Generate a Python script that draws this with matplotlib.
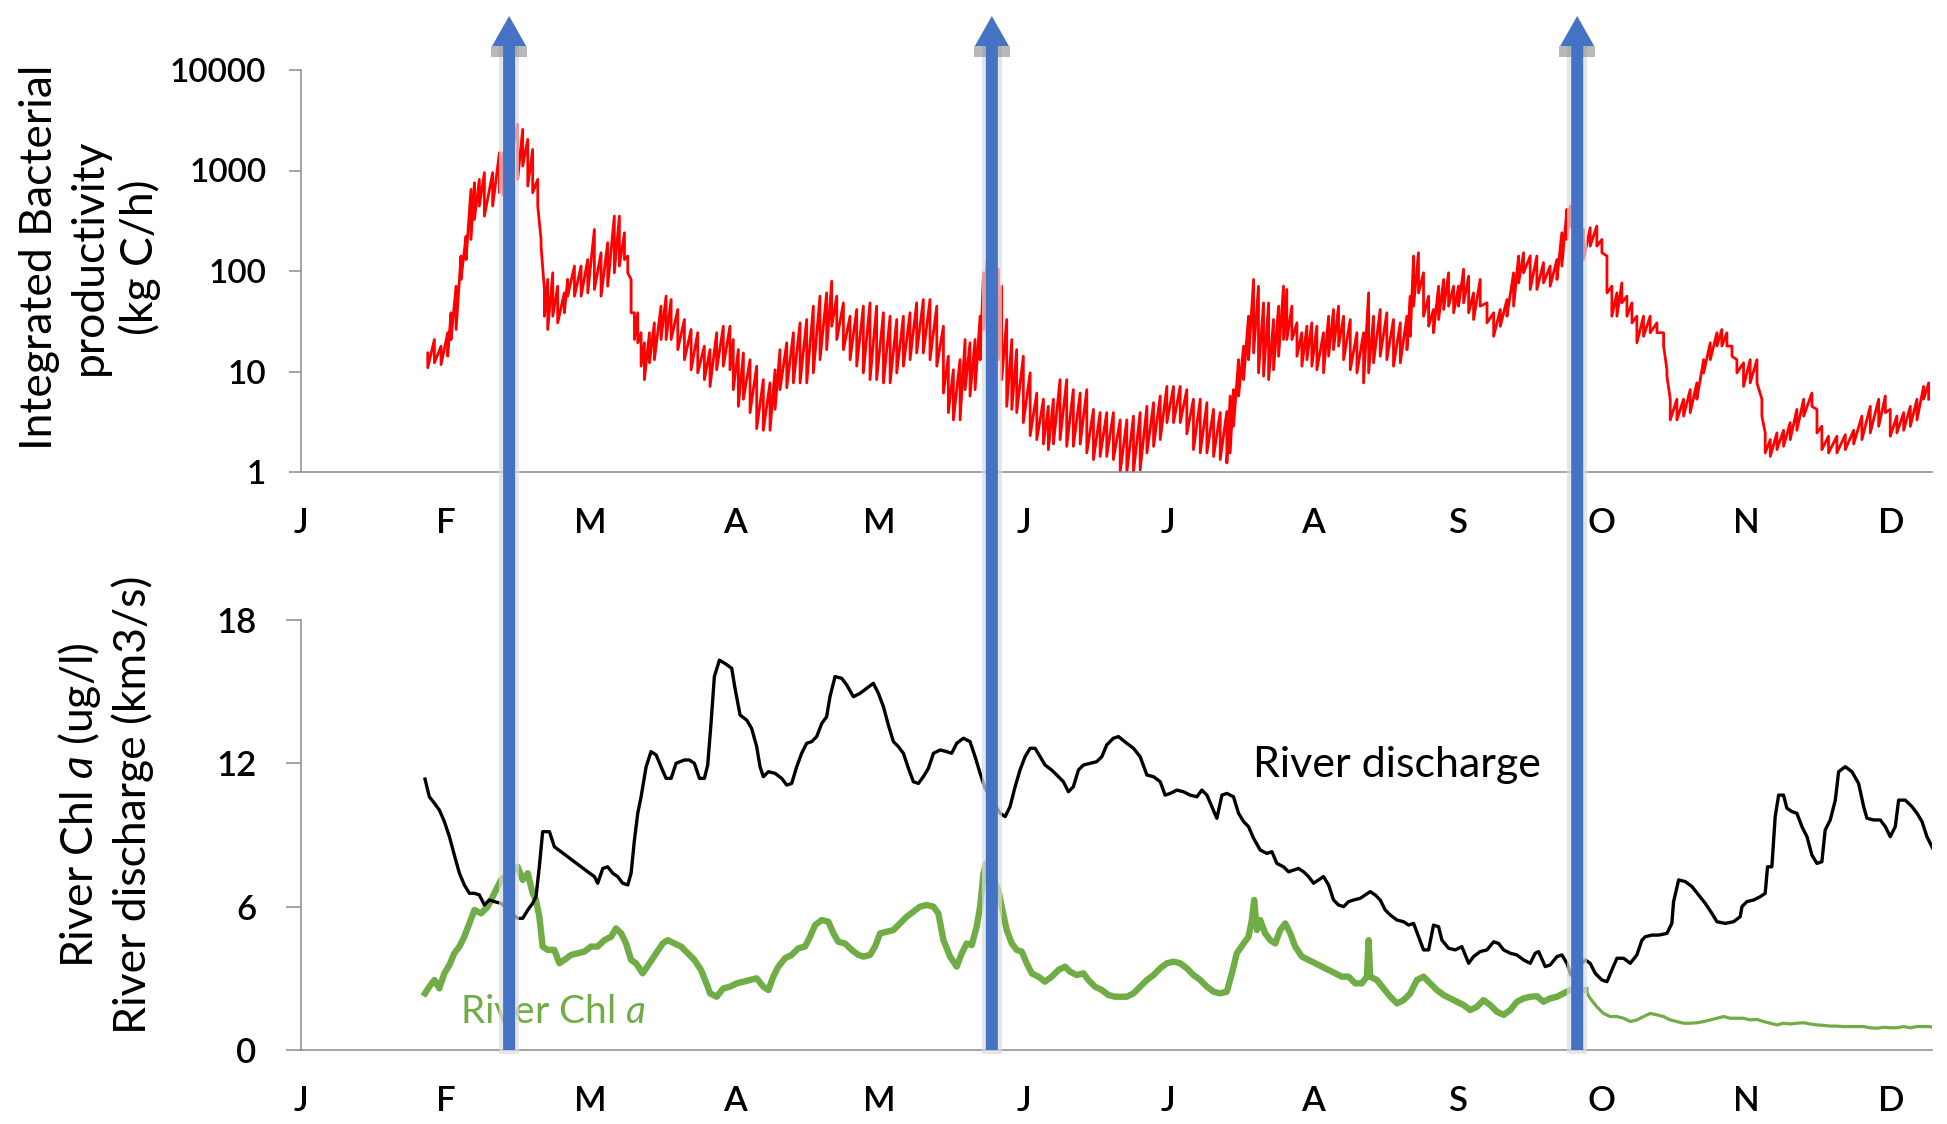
import numpy as np
import matplotlib
matplotlib.use("Agg")
from matplotlib import pyplot as plt
from matplotlib.patches import Polygon, Rectangle
from matplotlib.ticker import NullLocator
from matplotlib.transforms import IdentityTransform

# time axis in months: 0 = 1 January, one unit per month
months = ["J", "F", "M", "A", "M", "J", "J", "A", "S", "O", "N", "D"]

# integrated bacterial productivity (kg C/h): daily maxima / minima
bp_t = [0.877, 0.923, 0.969, 1.015, 1.038, 1.073, 1.107, 1.142, 1.176, 1.200,
        1.234, 1.269, 1.326, 1.373, 1.396, 1.499, 1.534, 1.569, 1.603, 1.638,
        1.661, 1.684, 1.707, 1.742, 1.776, 1.822, 1.845, 1.892, 1.938, 1.984,
        2.030, 2.076, 2.122, 2.168, 2.203, 2.238, 2.261, 2.284, 2.307, 2.330,
        2.353, 2.376, 2.411, 2.445, 2.491, 2.526, 2.561, 2.607, 2.653, 2.699,
        2.745, 2.791, 2.830, 2.876, 2.922, 2.968, 2.991, 3.026, 3.061, 3.107,
        3.153, 3.199, 3.245, 3.280, 3.314, 3.361, 3.407, 3.453, 3.499, 3.545,
        3.591, 3.637, 3.672, 3.707, 3.753, 3.799, 3.845, 3.891, 3.937, 3.983,
        4.030, 4.076, 4.122, 4.168, 4.214, 4.260, 4.306, 4.352, 4.399, 4.445,
        4.479, 4.514, 4.560, 4.595, 4.629, 4.664, 4.699, 4.722, 4.745, 4.825,
        4.848, 4.883, 4.918, 4.952, 4.998, 5.045, 5.091, 5.137, 5.171, 5.206,
        5.252, 5.298, 5.344, 5.391, 5.437, 5.483, 5.529, 5.575, 5.621, 5.668,
        5.714, 5.760, 5.806, 5.853, 5.899, 5.945, 5.991, 6.037, 6.083, 6.129,
        6.175, 6.222, 6.268, 6.314, 6.360, 6.406, 6.429, 6.452, 6.487, 6.522,
        6.556, 6.591, 6.625, 6.660, 6.695, 6.729, 6.764, 6.798, 6.821, 6.856,
        6.891, 6.925, 6.960, 6.994, 7.029, 7.075, 7.110, 7.144, 7.179, 7.214,
        7.260, 7.306, 7.352, 7.387, 7.421, 7.467, 7.513, 7.559, 7.606, 7.652,
        7.675, 7.698, 7.732, 7.767, 7.802, 7.836, 7.871, 7.906, 7.940, 7.975,
        8.009, 8.044, 8.079, 8.113, 8.159, 8.206, 8.252, 8.298, 8.344, 8.390,
        8.425, 8.459, 8.505, 8.551, 8.597, 8.643, 8.690, 8.724, 8.759, 8.782,
        8.874, 8.920, 8.966, 9.001, 9.036, 9.070, 9.105, 9.139, 9.174, 9.209,
        9.243, 9.289, 9.335, 9.382, 9.428, 9.451, 9.474, 9.520, 9.566, 9.612,
        9.658, 9.705, 9.751, 9.797, 9.831, 9.866, 9.901, 9.935, 9.981, 10.027,
        10.074, 10.108, 10.131, 10.166, 10.212, 10.258, 10.304, 10.350, 10.397, 10.454,
        10.489, 10.523, 10.569, 10.627, 10.685, 10.743, 10.800, 10.858, 10.916, 10.962,
        10.996, 11.042, 11.089, 11.135, 11.181, 11.227, 11.262]
bp_high = [15.3, 20.8, 17.9, 24.3, 38.4, 70.6, 141, 222, 649, 755,
           816, 951, 951, 1504, 1504, 2884, 2570, 2042, 1622, 816,
           206, 65.5, 82.4, 96.0, 70.6, 60.6, 82.4, 112, 112, 130,
           259, 152, 191, 352, 352, 240, 141, 82.4, 38.4, 38.4,
           24.3, 19.3, 24.3, 30.5, 44.7, 56.2, 52.0, 41.4, 32.9, 26.2,
           24.3, 17.9, 16.5, 24.3, 28.2, 28.2, 20.8, 16.5, 15.3, 13.1,
           11.3, 8.3, 7.7, 10.4, 16.5, 19.3, 24.3, 30.5, 32.9, 44.7,
           56.2, 60.6, 79.3, 56.2, 48.2, 35.5, 41.4, 44.7, 48.2, 44.7,
           38.4, 35.5, 32.9, 35.5, 38.4, 48.2, 52.0, 52.0, 44.7, 28.2,
           14.2, 10.4, 13.1, 20.8, 19.3, 20.8, 35.5, 96.0, 121, 104,
           70.6, 32.9, 20.8, 16.5, 14.2, 9.7, 6.1, 5.3, 4.5, 5.3,
           8.3, 8.3, 6.6, 6.1, 6.6, 4.2, 3.9, 3.9, 3.9, 3.3,
           3.3, 3.6, 3.9, 4.5, 4.9, 5.7, 7.1, 7.1, 7.1, 6.6,
           5.3, 5.3, 4.9, 4.2, 3.9, 4.0, 5.7, 6.6, 13.1, 17.9,
           35.5, 82.4, 70.6, 48.2, 48.2, 32.9, 44.7, 70.6, 65.5, 44.7,
           30.5, 24.3, 28.2, 30.5, 28.2, 24.3, 35.5, 41.4, 44.7, 35.5,
           32.9, 24.3, 24.3, 60.6, 35.5, 41.4, 38.4, 32.9, 30.5, 35.5,
           56.2, 141, 152, 96.0, 56.2, 41.4, 70.6, 82.4, 96.0, 70.6,
           70.6, 104, 88.9, 60.6, 82.4, 48.2, 38.4, 41.4, 52.0, 96.0,
           141, 152, 141, 141, 121, 112, 130, 240, 411, 443,
           259, 269, 280, 206, 141, 70.6, 60.6, 76.2, 56.2, 48.2,
           35.5, 35.5, 35.5, 30.5, 24.3, 10.4, 5.3, 5.3, 5.3, 6.6,
           7.7, 13.1, 19.3, 24.3, 26.2, 24.3, 17.9, 13.1, 12.2, 13.1,
           13.1, 5.3, 2.45, 2.1, 2.45, 2.6, 3.1, 4.2, 5.3, 6.1,
           4.2, 2.85, 2.27, 2.27, 2.35, 2.6, 3.6, 4.5, 5.3, 5.7,
           4.2, 3.6, 3.9, 4.5, 5.3, 7.1, 7.7]
bp_low = [10.9, 12.2, 11.7, 14.2, 20.8, 26.2, 82.4, 130, 206, 326,
          443, 352, 443, 601, 578, 816, 1109, 700, 601, 443,
          177, 35.5, 26.2, 35.5, 30.5, 38.4, 56.2, 56.2, 56.2, 60.6,
          65.5, 56.2, 70.6, 96.0, 112, 130, 96.0, 38.4, 20.8, 19.3,
          11.3, 8.3, 12.2, 13.1, 20.8, 20.8, 20.8, 16.5, 13.1, 10.4,
          9.7, 8.3, 7.1, 10.4, 11.3, 10.4, 6.6, 4.5, 5.3, 3.9,
          2.7, 2.6, 2.6, 4.2, 6.6, 6.9, 7.7, 7.7, 7.7, 9.7,
          13.1, 16.5, 28.2, 20.8, 16.5, 13.1, 11.3, 9.7, 8.3, 8.3,
          7.7, 7.7, 9.7, 11.3, 13.1, 15.3, 15.3, 13.1, 11.3, 6.1,
          3.9, 3.3, 3.3, 6.6, 5.7, 6.6, 13.1, 26.2, 24.3, 13.1,
          8.3, 4.5, 4.2, 3.9, 3.1, 2.3, 2.1, 1.9, 1.67, 1.9,
          2.1, 1.8, 1.8, 1.9, 1.55, 1.33, 1.43, 1.43, 1.33, 1.0,
          1.0, 1.0, 1.05, 1.55, 1.8, 2.1, 3.1, 3.1, 3.1, 2.4,
          1.67, 1.55, 1.55, 1.43, 1.33, 1.23, 1.55, 2.85, 5.7, 8.3,
          13.1, 15.3, 9.7, 9.0, 8.3, 10.4, 14.2, 20.8, 20.8, 20.8,
          14.2, 11.3, 13.1, 11.3, 10.4, 9.7, 14.2, 16.5, 17.9, 13.1,
          10.4, 9.7, 7.7, 9.7, 12.2, 14.2, 13.1, 11.3, 12.2, 16.5,
          22.4, 44.7, 60.6, 35.5, 28.2, 24.3, 32.9, 41.4, 44.7, 38.4,
          44.7, 48.2, 38.4, 32.9, 44.7, 30.5, 22.4, 28.2, 35.5, 44.7,
          76.2, 96.0, 65.5, 65.5, 76.2, 70.6, 82.4, 112, 206, 280,
          130, 177, 177, 152, 60.6, 35.5, 35.5, 48.2, 35.5, 30.5,
          19.3, 22.4, 24.3, 24.3, 17.9, 9.0, 3.3, 3.3, 3.6, 3.9,
          5.3, 9.7, 13.1, 17.9, 17.9, 17.9, 14.2, 9.7, 7.1, 7.7,
          7.7, 3.6, 1.55, 1.43, 1.67, 1.8, 2.1, 2.6, 3.6, 4.5,
          2.45, 1.67, 1.55, 1.55, 1.67, 1.9, 2.1, 2.45, 2.85, 3.9,
          2.27, 2.45, 2.6, 2.85, 3.3, 5.3, 5.3]

# river discharge (km3/s)
q_t = [0.858, 0.888, 0.923, 0.957, 0.992, 1.027, 1.061, 1.096, 1.130, 1.165,
       1.200, 1.234, 1.269, 1.303, 1.338, 1.384, 1.499, 1.534, 1.569, 1.603,
       1.626, 1.649, 1.672, 1.719, 1.753, 1.799, 1.845, 1.892, 1.938, 1.984,
       2.030, 2.053, 2.088, 2.122, 2.157, 2.191, 2.226, 2.261, 2.284, 2.307,
       2.330, 2.353, 2.388, 2.422, 2.457, 2.491, 2.526, 2.561, 2.595, 2.653,
       2.687, 2.722, 2.757, 2.791, 2.814, 2.837, 2.860, 2.895, 2.934, 2.980,
       3.003, 3.038, 3.084, 3.118, 3.153, 3.176, 3.199, 3.234, 3.280, 3.326,
       3.361, 3.395, 3.430, 3.464, 3.499, 3.534, 3.568, 3.603, 3.637, 3.660,
       3.695, 3.741, 3.776, 3.822, 3.868, 3.914, 3.960, 3.995, 4.030, 4.064,
       4.099, 4.133, 4.168, 4.203, 4.237, 4.272, 4.306, 4.341, 4.376, 4.422,
       4.468, 4.502, 4.537, 4.583, 4.629, 4.664, 4.699, 4.733, 4.837, 4.872,
       4.906, 4.941, 4.975, 5.010, 5.045, 5.079, 5.114, 5.148, 5.194, 5.241,
       5.275, 5.310, 5.344, 5.379, 5.414, 5.460, 5.506, 5.541, 5.575, 5.621,
       5.656, 5.714, 5.760, 5.806, 5.853, 5.899, 5.945, 5.979, 6.014, 6.060,
       6.106, 6.152, 6.199, 6.233, 6.268, 6.302, 6.337, 6.372, 6.406, 6.452,
       6.487, 6.522, 6.556, 6.591, 6.637, 6.683, 6.718, 6.752, 6.798, 6.833,
       6.868, 6.902, 6.937, 6.971, 7.006, 7.041, 7.075, 7.110, 7.144, 7.179,
       7.214, 7.248, 7.283, 7.329, 7.364, 7.398, 7.433, 7.467, 7.502, 7.537,
       7.583, 7.629, 7.663, 7.698, 7.733, 7.767, 7.802, 7.836, 7.871, 7.894,
       7.940, 7.986, 8.032, 8.079, 8.113, 8.159, 8.206, 8.252, 8.286, 8.321,
       8.367, 8.413, 8.459, 8.505, 8.540, 8.563, 8.609, 8.643, 8.690, 8.724,
       8.759, 8.786, 8.886, 8.920, 8.955, 9.001, 9.036, 9.070, 9.105, 9.151,
       9.197, 9.243, 9.278, 9.301, 9.347, 9.393, 9.451, 9.485, 9.497, 9.532,
       9.578, 9.624, 9.670, 9.716, 9.762, 9.797, 9.855, 9.912, 9.958, 9.970,
       10.004, 10.051, 10.097, 10.131, 10.147, 10.177, 10.200, 10.224, 10.258, 10.281,
       10.316, 10.350, 10.385, 10.420, 10.454, 10.489, 10.523, 10.546, 10.581, 10.616,
       10.639, 10.685, 10.731, 10.777, 10.812, 10.835, 10.881, 10.927, 10.962, 10.996,
       11.031, 11.054, 11.100, 11.146, 11.181, 11.216, 11.250, 11.296]
q_val = [11.34, 10.60, 10.33, 10.05, 9.56, 8.93, 8.16, 7.40, 6.91, 6.56,
         6.56, 6.49, 6.07, 6.28, 6.21, 6.14, 5.51, 5.51, 5.86, 6.14,
         6.42, 7.67, 9.14, 9.14, 8.51, 8.30, 8.09, 7.88, 7.67, 7.46,
         7.26, 6.98, 7.60, 7.67, 7.40, 7.26, 6.98, 6.91, 7.40, 8.79,
         9.91, 10.60, 11.86, 12.49, 12.35, 11.86, 11.37, 11.37, 12.00, 12.14,
         12.14, 12.00, 11.37, 11.37, 11.93, 13.67, 15.63, 16.32, 16.18, 15.98,
         15.14, 14.02, 13.81, 13.46, 12.70, 11.86, 11.44, 11.65, 11.58, 11.37,
         11.09, 11.16, 11.86, 12.42, 12.84, 12.91, 13.12, 13.67, 13.95, 14.79,
         15.63, 15.56, 15.28, 14.79, 14.93, 15.14, 15.35, 14.93, 14.37, 13.60,
         12.91, 12.70, 12.42, 11.79, 11.23, 11.16, 11.44, 11.79, 12.42, 12.56,
         12.49, 12.42, 12.84, 13.05, 12.91, 12.28, 11.58, 10.95, 9.91, 9.77,
         10.19, 11.02, 11.72, 12.28, 12.63, 12.63, 12.28, 11.93, 11.72, 11.44,
         11.23, 10.81, 11.02, 11.72, 11.93, 12.00, 12.07, 12.28, 12.77, 13.05,
         13.12, 12.84, 12.63, 12.28, 11.51, 11.44, 11.23, 10.67, 10.74, 10.88,
         10.81, 10.67, 10.60, 10.88, 10.67, 10.19, 9.70, 10.67, 10.74, 10.60,
         9.91, 9.56, 9.35, 8.86, 8.37, 8.23, 8.30, 7.81, 7.67, 7.46,
         7.53, 7.60, 7.46, 7.26, 6.98, 7.12, 7.26, 6.91, 6.28, 6.07,
         6.00, 6.21, 6.28, 6.35, 6.49, 6.63, 6.49, 6.28, 5.86, 5.65,
         5.44, 5.37, 5.23, 5.30, 4.74, 4.19, 4.19, 5.23, 5.16, 4.60,
         4.26, 4.19, 4.33, 3.63, 3.91, 4.12, 4.19, 4.53, 4.46, 4.19,
         4.05, 3.98, 3.77, 3.63, 4.05, 4.12, 3.49, 3.56, 3.91, 3.98,
         3.63, 3.14, 3.77, 3.63, 3.21, 2.93, 2.86, 3.35, 3.84, 3.84,
         3.63, 3.98, 4.60, 4.74, 4.81, 4.81, 4.88, 5.30, 6.21, 7.12,
         7.05, 6.84, 6.49, 6.14, 5.72, 5.37, 5.30, 5.37, 5.58, 6.00,
         6.21, 6.28, 6.42, 6.56, 7.67, 7.67, 9.77, 10.67, 10.67, 10.12,
         9.98, 9.91, 9.35, 8.93, 8.16, 7.81, 7.88, 9.21, 9.63, 10.46,
         11.65, 11.86, 11.65, 11.16, 10.19, 9.70, 9.63, 9.63, 9.35, 8.93,
         9.35, 10.46, 10.46, 10.19, 9.91, 9.56, 8.93, 8.37]

# river chlorophyll a (ug/l)
chl_t = [0.858, 0.888, 0.923, 0.957, 0.992, 1.027, 1.061, 1.096, 1.130, 1.165,
         1.200, 1.246, 1.292, 1.338, 1.384, 1.499, 1.534, 1.569, 1.603, 1.626,
         1.649, 1.672, 1.707, 1.753, 1.788, 1.822, 1.869, 1.915, 1.961, 2.007,
         2.053, 2.099, 2.145, 2.180, 2.215, 2.249, 2.284, 2.318, 2.364, 2.411,
         2.457, 2.503, 2.537, 2.584, 2.630, 2.676, 2.722, 2.768, 2.814, 2.830,
         2.876, 2.922, 2.968, 3.015, 3.061, 3.107, 3.153, 3.199, 3.234, 3.268,
         3.303, 3.349, 3.395, 3.441, 3.487, 3.522, 3.557, 3.603, 3.649, 3.684,
         3.718, 3.764, 3.810, 3.857, 3.891, 3.937, 3.972, 4.007, 4.053, 4.099,
         4.145, 4.191, 4.237, 4.283, 4.329, 4.376, 4.410, 4.445, 4.491, 4.537,
         4.572, 4.606, 4.641, 4.675, 4.699, 4.722, 4.740, 4.825, 4.848, 4.883,
         4.918, 4.952, 4.987, 5.021, 5.056, 5.102, 5.148, 5.194, 5.241, 5.287,
         5.321, 5.367, 5.414, 5.448, 5.494, 5.541, 5.587, 5.633, 5.714, 5.760,
         5.806, 5.853, 5.899, 5.945, 5.991, 6.037, 6.083, 6.129, 6.175, 6.222,
         6.268, 6.314, 6.360, 6.406, 6.441, 6.475, 6.522, 6.556, 6.579, 6.595,
         6.614, 6.637, 6.671, 6.706, 6.741, 6.775, 6.810, 6.845, 6.879, 6.925,
         6.971, 7.017, 7.064, 7.110, 7.156, 7.202, 7.248, 7.294, 7.340, 7.375,
         7.387, 7.398, 7.444, 7.490, 7.537, 7.583, 7.629, 7.675, 7.721, 7.767,
         7.813, 7.859, 7.906, 7.952, 7.998, 8.044, 8.090, 8.136, 8.182, 8.229,
         8.275, 8.321, 8.367, 8.413, 8.459, 8.505, 8.551, 8.597, 8.643, 8.690,
         8.736, 8.782, 8.886, 8.920, 8.966, 9.012, 9.059, 9.105, 9.151, 9.197,
         9.243, 9.289, 9.335, 9.382, 9.428, 9.474, 9.520, 9.566, 9.612, 9.658,
         9.705, 9.751, 9.797, 9.843, 9.889, 9.935, 9.981, 10.027, 10.074, 10.120,
         10.166, 10.212, 10.258, 10.304, 10.350, 10.397, 10.443, 10.489, 10.535, 10.581,
         10.627, 10.673, 10.720, 10.766, 10.812, 10.858, 10.904, 10.950, 10.996, 11.042,
         11.089, 11.135, 11.181, 11.227, 11.273, 11.296]
chl_val = [2.37, 2.65, 2.93, 2.58, 3.21, 3.56, 4.05, 4.33, 4.74, 5.30,
           5.86, 5.72, 6.00, 6.56, 7.12, 7.67, 7.12, 7.40, 6.56, 6.28,
           5.58, 4.33, 4.19, 4.19, 3.63, 3.77, 3.98, 4.05, 4.12, 4.33,
           4.33, 4.60, 4.74, 5.09, 4.88, 4.46, 3.77, 3.63, 3.21, 3.63,
           4.05, 4.46, 4.60, 4.46, 4.33, 4.05, 3.77, 3.35, 2.65, 2.37,
           2.23, 2.58, 2.65, 2.79, 2.86, 2.93, 3.00, 2.65, 2.51, 3.07,
           3.49, 3.84, 3.98, 4.26, 4.33, 4.74, 5.23, 5.44, 5.37, 4.88,
           4.53, 4.46, 4.19, 3.98, 3.91, 3.98, 4.33, 4.88, 4.95, 5.02,
           5.30, 5.58, 5.79, 6.00, 6.07, 6.00, 5.72, 4.60, 3.91, 3.49,
           4.05, 4.46, 4.39, 5.16, 6.00, 7.40, 7.81, 6.70, 6.00, 5.02,
           4.46, 4.19, 4.12, 3.63, 3.21, 3.07, 2.86, 3.07, 3.35, 3.49,
           3.28, 3.14, 3.21, 2.93, 2.65, 2.51, 2.30, 2.23, 2.23, 2.37,
           2.65, 2.93, 3.14, 3.42, 3.63, 3.70, 3.63, 3.42, 3.14, 2.93,
           2.65, 2.44, 2.37, 2.44, 3.21, 4.05, 4.46, 4.74, 5.44, 6.28,
           5.02, 5.44, 4.88, 4.60, 4.46, 5.02, 5.30, 4.88, 4.33, 3.91,
           3.77, 3.63, 3.49, 3.35, 3.21, 3.07, 3.07, 2.79, 2.79, 3.07,
           4.60, 3.07, 2.93, 2.58, 2.23, 1.95, 2.09, 2.37, 2.93, 3.07,
           2.79, 2.51, 2.30, 2.16, 2.02, 1.88, 1.67, 1.81, 2.09, 1.88,
           1.60, 1.47, 1.67, 2.02, 2.16, 2.23, 2.25, 2.02, 2.16, 2.23,
           2.37, 2.51, 2.51, 2.16, 1.81, 1.53, 1.40, 1.40, 1.33, 1.19,
           1.26, 1.40, 1.53, 1.47, 1.40, 1.26, 1.19, 1.12, 1.12, 1.14,
           1.19, 1.26, 1.33, 1.40, 1.33, 1.33, 1.33, 1.26, 1.28, 1.19,
           1.12, 1.05, 1.12, 1.09, 1.12, 1.14, 1.09, 1.05, 1.03, 1.00,
           1.00, 0.98, 0.98, 0.98, 0.98, 0.93, 0.91, 0.95, 0.93, 0.93,
           0.98, 0.93, 0.98, 0.98, 0.98, 0.93]

# timing of the three highlighted events
event_t = [1.44, 4.78, 8.83]

W, H = 1947, 1124
grey = "#8c8c8c"
green = "#70ad47"
blue = "#4472c4"

plt.rcParams["font.family"] = ["Lato", "DejaVu Sans"]
plt.rcParams["mathtext.fontset"] = "custom"
plt.rcParams["mathtext.rm"] = "Lato"
plt.rcParams["mathtext.it"] = "Lato:italic"

fig = plt.figure(figsize=(W / 100, H / 100), dpi=100)
ax1 = fig.add_axes([301 / W, 1 - 472 / H, 1631 / W, 402 / H])
ax2 = fig.add_axes([301 / W, 1 - 1050 / H, 1631 / W, 430 / H])

for ax in (ax1, ax2):
    ax.set_xlim(0, 11.285)
    ax.set_xticks(range(len(months)))
    ax.set_xticklabels(months, fontsize=25, fontweight="semibold")
    ax.tick_params(axis="x", length=0, pad=25)
    for side in ("top", "right"):
        ax.spines[side].set_visible(False)
    for side in ("left", "bottom"):
        ax.spines[side].set_color(grey)
        ax.spines[side].set_linewidth(1.1)
    ax.tick_params(axis="y", color=grey, width=1.1)

# productivity: zig-zag between daily maximum and minimum
x = np.repeat(bp_t, 2)
y = np.column_stack([bp_high, bp_low]).ravel()
ax1.plot(x, y, color="red", lw=2.0)
ax1.set_yscale("log")
ax1.set_ylim(1, 10000)
ax1.set_yticks([1, 10, 100, 1000, 10000])
ax1.set_yticklabels(["1", "10", "100", "1000", "10000"], fontsize=24,
                    fontweight="semibold")
ax1.yaxis.set_minor_locator(NullLocator())
ax1.tick_params(axis="y", length=9, pad=16)

chl_t = np.array(chl_t)
chl_val = np.array(chl_val)
busy = chl_t <= 8.9
ax2.plot(chl_t[busy], chl_val[busy], color=green, lw=4.6, solid_joinstyle="round")
ax2.plot(chl_t[chl_t >= 8.88], chl_val[chl_t >= 8.88], color=green, lw=2.3)
ax2.plot(q_t, q_val, color="black", lw=2.4)
ax2.set_ylim(0, 18)
ax2.set_yticks([0, 6, 12, 18])
ax2.set_yticklabels(["0", "6", "12", "18"], fontsize=25, fontweight="semibold")
ax2.tick_params(axis="y", length=11, pad=21)

ax2.text(6.586, 11.44, "River discharge", fontsize=31, ha="left", va="baseline")
ax2.text(1.10, 1.13, r"River Chl $\mathit{a}$", fontsize=28, color=green,
         ha="left", va="baseline")

fig.text(90 / W, 1 - 257 / H, "Integrated Bacterial\nproductivity\n(kg C/h)",
         rotation=90, ha="center", va="center", multialignment="center",
         fontsize=32, linespacing=1.25)
fig.text(105 / W, 1 - 805 / H, "River Chl $\\mathit{a}$ (ug/l)\nRiver discharge (km3/s)",
         rotation=90, ha="center", va="center", multialignment="center",
         fontsize=32, linespacing=1.25)

# event arrows spanning both panels (pixel geometry)
fig.canvas.draw()
tip_y = H - 16
base_y = H - 46
for t in event_t:
    xc, y0 = ax2.transData.transform((t, 0))
    halo = Rectangle((xc - 10, y0 - 4), 20, base_y - y0 + 4, facecolor="#dcdcdc",
                     edgecolor="none", alpha=0.7, transform=IdentityTransform())
    shade = Rectangle((xc - 18, base_y - 11), 36, 11, facecolor="#8a8a8a",
                      edgecolor="none", alpha=0.6, transform=IdentityTransform())
    arrow = Polygon([(xc - 6, y0), (xc - 6, base_y), (xc - 17, base_y), (xc, tip_y),
                     (xc + 17, base_y), (xc + 6, base_y), (xc + 6, y0)],
                    closed=True, facecolor=blue, edgecolor="none",
                    transform=IdentityTransform())
    for patch in (halo, shade, arrow):
        fig.add_artist(patch)

fig.savefig("out.png", dpi=100)
